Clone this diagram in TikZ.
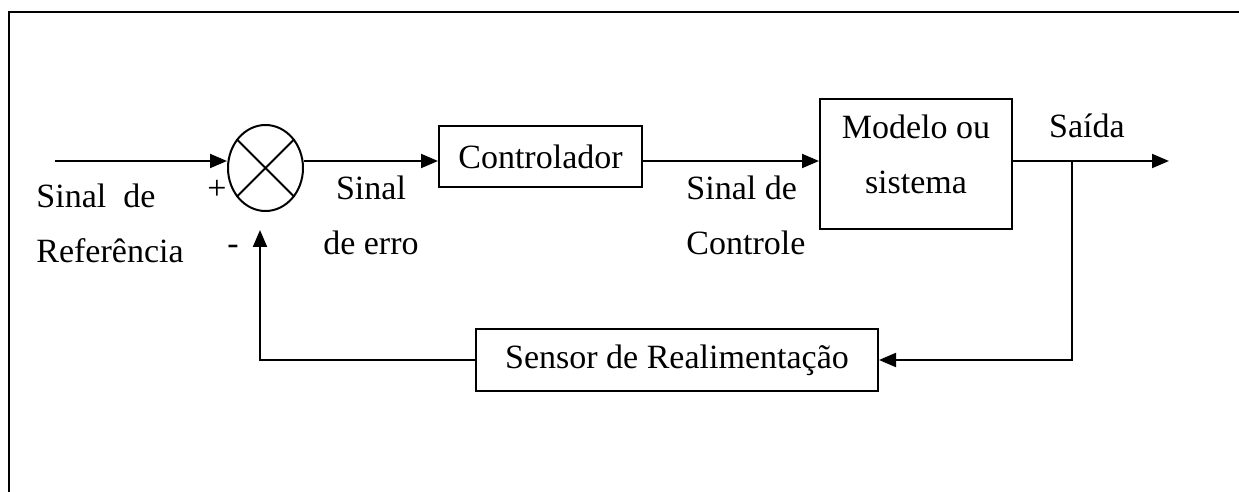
\documentclass[tikz,border=0pt]{standalone}
\usepackage{fontspec}
\setmainfont{Liberation Serif}
\usetikzlibrary{arrows.meta,positioning,shapes.geometric}

\begin{document}
\begin{tikzpicture}[x=0.5pt,y=-0.5pt,
  arr/.style={-{Triangle[length=8.5pt,width=7pt]},line width=1pt},
  lin/.style={line width=1pt},
  lab/.style={font=\fontsize{17}{27.5}\selectfont,inner sep=0pt},
  blk/.style={draw,line width=1pt,lab,align=center}
]
\useasboundingbox (0,0) rectangle (1239,492);
% moldura
\draw[line width=1.2pt] (9,600) -- (9,12) -- (1300,12);

% blocos
\node[draw,lin,ellipse,minimum width=37.5pt,minimum height=43pt,inner sep=0pt] (sum) at (265.5,168) {};
\draw[lin] (sum.45) -- (sum.225) (sum.135) -- (sum.315);
\node[blk,minimum width=101.5pt,minimum height=30.5pt] (ctrl) at (540.5,156.5) {Controlador};
\node[blk,minimum width=96pt,minimum height=65pt] (model) at (916,164) {};
\node[lab,align=center] (modeltxt) at (916,154) {Modelo ou\\sistema};
\node[blk,minimum width=201pt,minimum height=31pt] (sensor) at (677,360) {Sensor de Realimentação};

\coordinate (in) at (55,161);
\coordinate (out) at (1169,161);
\coordinate (branch) at (1072,161);
\coordinate (fb) at (260,230);

% ligacoes
\draw[arr] (in) -- (sum.west |- in);
\draw[arr] (sum.east |- in) -- (ctrl.west |- in);
\draw[arr] (ctrl.east |- in) -- (model.west |- in);
\draw[arr] (model.east |- in) -- (out);
\draw[arr] (branch) |- (sensor.east);
\draw[arr] (sensor.west) -| (fb);

% rotulos
\node[lab,align=left,anchor=west] (ref) at (36,223) {Sinal\ \ de\\Referência};
\node[lab] (plus) at (217,190) {+};
\node[lab] (minus) at (233,250) {-};
\node[lab,align=center] (err) at (371,215.5) {Sinal\\de erro};
\node[lab,align=left,anchor=west] (ctl) at (686,215.5) {Sinal de\\Controle};
\node[lab] (saida) at (1087,126) {Saída};
\end{tikzpicture}
\end{document}
